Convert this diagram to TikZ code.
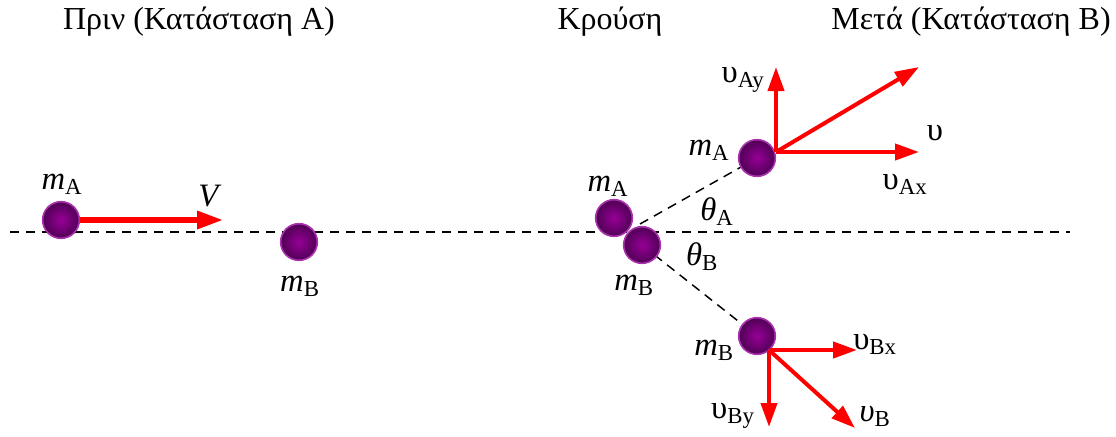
\documentclass[tikz,border=0pt]{standalone}
\usepackage{fontspec}
\setmainfont{Liberation Serif}
\newfontfamily\labfont{Liberation Serif}
\usetikzlibrary{arrows.meta,backgrounds}
\definecolor{ballin}{RGB}{150,0,150}
\definecolor{ballout}{RGB}{80,0,85}
\definecolor{ballrim}{RGB}{170,50,175}
\newcommand{\mass}[1]{\textit{m}\textsubscript{#1}}
\newcommand{\vel}[1]{υ\textsubscript{#1}}

\begin{document}
\begin{tikzpicture}[x=0.75pt,y=-0.75pt,font=\labfont\fontsize{24.5}{28}\selectfont,
    ball/.style={circle,minimum size=27.5pt,inner sep=0pt,draw=ballrim,line width=1.2pt,
      inner color=ballin,outer color=ballout},
    vec/.style={draw=red,line width=3pt,-{Triangle[length=18pt,width=12pt]}},
    guide/.style={line width=1.1pt,dash pattern=on 7pt off 5pt},
    title/.style={font=\labfont\fontsize{24}{28}\selectfont}]
    \useasboundingbox (0,0) rectangle (1116,436);
    % headings
    \node[title] (t1) at (199,22) {Πριν (Κατάσταση Α)};
    \node[title] (t2) at (610,22) {Κρούση};
    \node[title] (t3) at (971,22) {Μετά (Κατάσταση Β)};
    % balls
    \node[ball] (a0) at (61,220) {};
    \node[ball] (b0) at (299,242) {};
    \node[ball] (a1) at (614,218) {};
    \node[ball] (b1) at (642,245) {};
    \node[ball] (a2) at (757,158) {};
    \node[ball] (b2) at (757,336) {};
    % line of motion and paths after the hit
    \coordinate (L) at (10,232);
    \coordinate (R) at (1070,232);
    \coordinate (hit) at (640,224);
    \begin{scope}[on background layer]
      \draw[guide] (L) -- (R);
      \draw[guide] (hit) -- (a2.center);
      \draw[guide] (b1.center) -- (b2.center);
    \end{scope}
    % velocities
    \coordinate (Vend) at (223,220);
    \draw[vec,line width=4pt,-{Triangle[length=19.5pt,width=13pt]}] (a0) -- (Vend);
    \coordinate (oA) at (776,152);
    \coordinate (vAy) at (776,67);
    \coordinate (vA) at (919,67);
    \coordinate (vAx) at (919,152);
    \draw[vec] (oA) -- (vAy);
    \draw[vec] (oA) -- (vAx);
    \draw[vec] (oA) -- (vA);
    \coordinate (oB) at (769,350);
    \coordinate (vBx) at (857,350);
    \coordinate (vBy) at (769,427);
    \coordinate (vB) at (855,428);
    \draw[vec] (oB) -- (vBx);
    \draw[vec] (oB) -- (vBy);
    \draw[vec] (oB) -- (vB);
    % labels
    \node (mA0) at (62,184) {\mass{A}};
    \node (V) at (210,196) {\textit{V}};
    \node (mB0) at (300,286) {\mass{B}};
    \node (mA1) at (608,186) {\mass{A}};
    \node (mB1) at (634,285) {\mass{B}};
    \node (thA) at (717,212) {\textit{θ}\textsubscript{A}};
    \node (thB) at (702,257) {\textit{θ}\textsubscript{B}};
    \node (mA2) at (709,150) {\mass{A}};
    \node (lAy) at (743,80) {\vel{Ay}};
    \node (lA) at (935,133) {υ};
    \node (lAx) at (905,184) {\vel{Ax}};
    \node (mB2) at (714,350) {\mass{B}};
    \node (lBx) at (875,344) {\vel{Bx}};
    \node (lBy) at (733,416) {\vel{By}};
    \node (lB) at (875,416) {\textit{υ}\textsubscript{B}};
\end{tikzpicture}
\end{document}
